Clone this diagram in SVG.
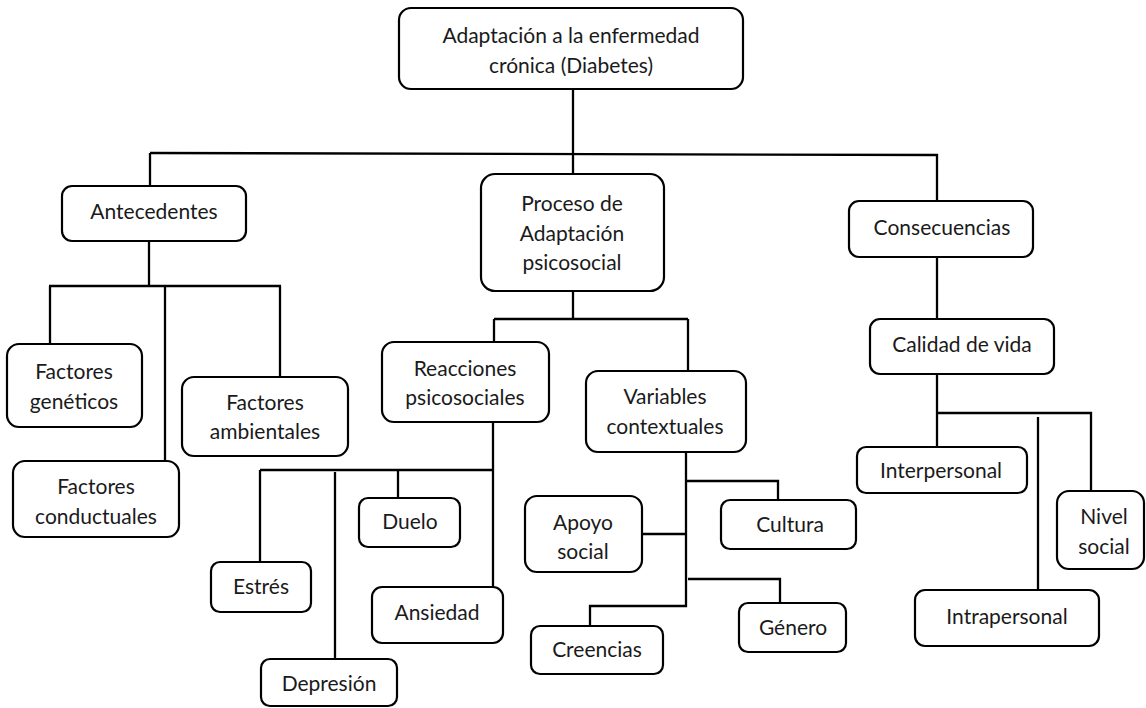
<svg xmlns="http://www.w3.org/2000/svg" width="1146" height="708" viewBox="0 0 1146 708">
<style>
.n rect{fill:#fff;stroke:#000;stroke-width:2.2}
.n text{font-family:Lato,"Liberation Sans",sans-serif;font-size:21px;fill:#1a1a1a;text-anchor:middle}
.c path{fill:none;stroke:#000;stroke-width:2.3}
</style>
<rect width="1146" height="708" fill="#fff"/>
<g class="c">
<path d="M573 89V174"/>
<path d="M150 153L937 155V201"/>
<path d="M150 153V186"/>
<path d="M149 241V286"/>
<path d="M49 286H281"/>
<path d="M50 286V344"/>
<path d="M165 286V460"/>
<path d="M280 286V377"/>
<path d="M573 291V319"/>
<path d="M494 319H688"/>
<path d="M494 319V342"/>
<path d="M688 319V371"/>
<path d="M493 422V587"/>
<path d="M260 470H493"/>
<path d="M260 470V562"/>
<path d="M335 472V659"/>
<path d="M398 470V498"/>
<path d="M686 452V606H590V627"/>
<path d="M686 481H778V500"/>
<path d="M642 534H686"/>
<path d="M688 579H780V603"/>
<path d="M937 257V319"/>
<path d="M937 374V447"/>
<path d="M936 413H1091V491"/>
<path d="M1038 417V590"/>
</g>
<g id="n-top" class="n"><rect x="399" y="8" width="344" height="81" rx="12"/><text x="571" y="43">Adaptación a la enfermedad</text><text x="571" y="73">crónica (Diabetes)</text></g>
<g id="n-antecedentes" class="n"><rect x="62" y="186" width="184" height="55" rx="10"/><text x="154" y="219">Antecedentes</text></g>
<g id="n-proceso" class="n"><rect x="481" y="174" width="183" height="117" rx="14"/><text x="572" y="211">Proceso de</text><text x="572" y="241">Adaptación</text><text x="572" y="270">psicosocial</text></g>
<g id="n-consecuencias" class="n"><rect x="849" y="201" width="184" height="56" rx="10"/><text x="942" y="235">Consecuencias</text></g>
<g id="n-geneticos" class="n"><rect x="7" y="344" width="135" height="83" rx="12"/><text x="74" y="379">Factores</text><text x="74" y="409">genéticos</text></g>
<g id="n-ambientales" class="n"><rect x="182" y="377" width="166" height="79" rx="12"/><text x="265" y="410">Factores</text><text x="265" y="439">ambientales</text></g>
<g id="n-conductuales" class="n"><rect x="13" y="461" width="166" height="76" rx="12"/><text x="96" y="494">Factores</text><text x="96" y="524">conductuales</text></g>
<g id="n-reacciones" class="n"><rect x="382" y="342" width="167" height="80" rx="12"/><text x="465" y="376">Reacciones</text><text x="465" y="405">psicosociales</text></g>
<g id="n-variables" class="n"><rect x="586" y="371" width="160" height="81" rx="12"/><text x="665" y="404">Variables</text><text x="665" y="434">contextuales</text></g>
<g id="n-estres" class="n"><rect x="211" y="562" width="100" height="50" rx="9"/><text x="261" y="594">Estrés</text></g>
<g id="n-depresion" class="n"><rect x="261" y="659" width="136" height="47" rx="9"/><text x="329" y="691">Depresión</text></g>
<g id="n-duelo" class="n"><rect x="359" y="498" width="101" height="49" rx="9"/><text x="410" y="529">Duelo</text></g>
<g id="n-ansiedad" class="n"><rect x="372" y="587" width="131" height="56" rx="10"/><text x="437" y="620">Ansiedad</text></g>
<g id="n-apoyo" class="n"><rect x="525" y="496" width="117" height="76" rx="12"/><text x="583" y="530">Apoyo</text><text x="583" y="559">social</text></g>
<g id="n-cultura" class="n"><rect x="721" y="500" width="135" height="49" rx="9"/><text x="790" y="532">Cultura</text></g>
<g id="n-genero" class="n"><rect x="739" y="603" width="107" height="49" rx="9"/><text x="793" y="635">Género</text></g>
<g id="n-creencias" class="n"><rect x="531" y="626" width="132" height="48" rx="9"/><text x="597" y="657">Creencias</text></g>
<g id="n-calidad" class="n"><rect x="870" y="319" width="184" height="55" rx="10"/><text x="962" y="352">Calidad de vida</text></g>
<g id="n-interpersonal" class="n"><rect x="857" y="447" width="170" height="46" rx="9"/><text x="941" y="478">Interpersonal</text></g>
<g id="n-nivel" class="n"><rect x="1057" y="491" width="87" height="78" rx="12"/><text x="1104" y="524">Nivel</text><text x="1104" y="554">social</text></g>
<g id="n-intrapersonal" class="n"><rect x="915" y="590" width="184" height="56" rx="10"/><text x="1007" y="624">Intrapersonal</text></g>
</svg>
